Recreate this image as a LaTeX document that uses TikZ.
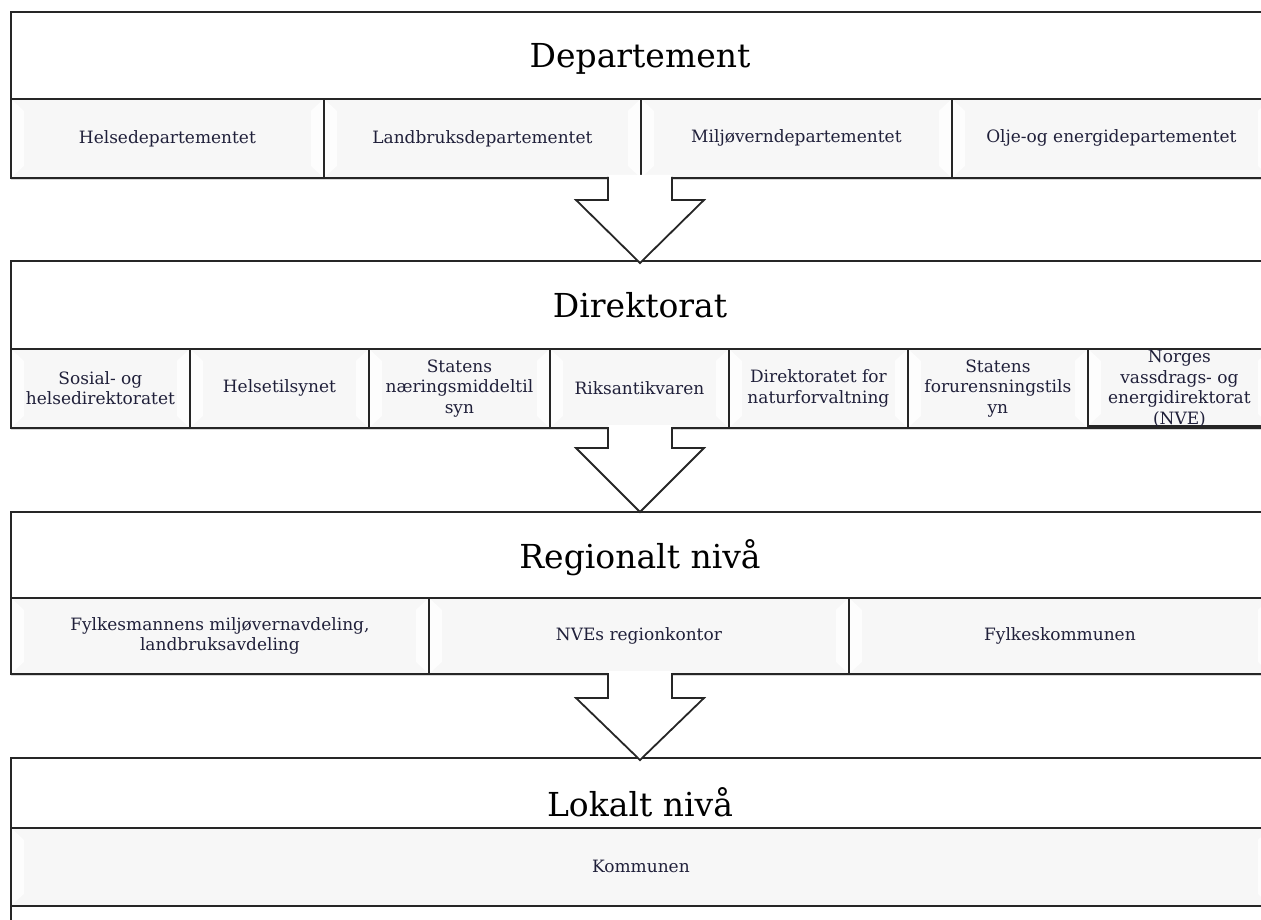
\documentclass[tikz,border=0pt]{standalone}
\usepackage{fontspec}
\setmainfont{DejaVu Serif}
\usetikzlibrary{calc,shadows}
\definecolor{linec}{HTML}{262626}
\definecolor{cellfill}{HTML}{F7F7F7}
\definecolor{bevelc}{HTML}{FDFDFD}
\definecolor{textc}{HTML}{20203A}
\tikzset{
  shadowed/.style={drop shadow={shadow xshift=0pt, shadow yshift=-2.5pt, opacity=0.25, fill=black!60}},
  band/.style={draw=linec, line width=1.8pt, fill=white, anchor=north west, inner sep=0pt, rectangle, shadowed},
  cell/.style={draw=linec, line width=1.8pt, fill=cellfill, anchor=north west, inner sep=0pt, rectangle,
    path picture={
      \fill[bevelc] (path picture bounding box.north west) -- ++(13,12) -- ($(path picture bounding box.south west)+(13,-12)$) -- (path picture bounding box.south west) -- cycle;
      \fill[bevelc] (path picture bounding box.north east) -- ++(-13,12) -- ($(path picture bounding box.south east)+(-13,-12)$) -- (path picture bounding box.south east) -- cycle;
    }},
  celltext/.style={align=center, inner sep=0pt, text=textc, font=\fontsize{17}{20.5}\selectfont},
  titletext/.style={inner sep=0pt, anchor=base, text=black, font=\fontsize{33}{36}\selectfont},
  arrowline/.style={draw=linec, line width=1.8pt, line join=miter},
  arrowfill/.style={fill=white, draw=none}
}
\newcommand\blockarrow[3]{%
  \fill[arrowfill] ($(#1)+(-32,-2)$) -- ($(#1)+(-32,#3)$) -- ($(#1)+(-64,#3)$) -- (#2) -- ($(#1)+(64,#3)$) -- ($(#1)+(32,#3)$) -- ($(#1)+(32,-2)$) -- cycle;
  \draw[arrowline] ($(#1)+(-32,0)$) -- ($(#1)+(-32,#3)$) -- ($(#1)+(-64,#3)$) -- (#2) -- ($(#1)+(64,#3)$) -- ($(#1)+(32,#3)$) -- ($(#1)+(32,0)$);
}
\begin{document}
\begin{tikzpicture}[x=1pt,y=-1pt]
\useasboundingbox (0,0) rectangle (1261,920);
\clip (0,0) rectangle (1261,920);
\fill[white] (0,0) rectangle (1261,920);

% ---------- Level 1 ----------
\node[band, minimum width=1290, minimum height=166] (L1) at (10,11) {};
\node[titletext] (T1) at (640,68) {Departement};
\node[cell, minimum width=313, minimum height=79] (c11) at (10,98) {};
\node[cell, minimum width=317, minimum height=79] (c12) at (323,98) {};
\node[cell, minimum width=311, minimum height=79] (c13) at (640,98) {};
\node[cell, minimum width=319, minimum height=79] (c14) at (951,98) {};
\node[celltext] (t11) at (c11.center) {Helsedepartementet};
\node[celltext] (t12) at (c12.center) {Landbruksdepartementet};
\node[celltext] (t13) at (c13.center) {Miljøverndepartementet};
\node[celltext] (t14) at (c14.center) {Olje-og energidepartementet};

% ---------- Level 2 ----------
\node[band, minimum width=1290, minimum height=167] (L2) at (10,260) {};
\node[titletext] (T2) at (640,317) {Direktorat};
\node[cell, minimum width=179, minimum height=79] (c21) at (10,348) {};
\node[cell, minimum width=179, minimum height=79] (c22) at (189,348) {};
\node[cell, minimum width=181, minimum height=79] (c23) at (368,348) {};
\node[cell, minimum width=179, minimum height=79] (c24) at (549,348) {};
\node[cell, minimum width=179, minimum height=79] (c25) at (728,348) {};
\node[cell, minimum width=180, minimum height=79] (c26) at (907,348) {};
\node[cell, minimum width=183, minimum height=77] (c27) at (1087,348) {};
\node[celltext] (t21) at (c21.center) {Sosial- og\\helsedirektoratet};
\node[celltext] (t22) at (c22.center) {Helsetilsynet};
\node[celltext] (t23) at (c23.center) {Statens\\næringsmiddeltil\\syn};
\node[celltext] (t24) at (c24.center) {Riksantikvaren};
\node[celltext] (t25) at (c25.center) {Direktoratet for\\naturforvaltning};
\node[celltext] (t26) at (c26.center) {Statens\\forurensningstils\\yn};
\node[celltext] (t27) at ($(c27.center)+(0,1)$) {Norges\\vassdrags- og\\energidirektorat\\(NVE)};

% ---------- Level 3 ----------
\node[band, minimum width=1290, minimum height=162] (L3) at (10,511) {};
\node[titletext] (T3) at (640,568) {Regionalt nivå};
\node[cell, minimum width=418, minimum height=76] (c31) at (10,597) {};
\node[cell, minimum width=420, minimum height=76] (c32) at (428,597) {};
\node[cell, minimum width=422, minimum height=76] (c33) at (848,597) {};
\node[celltext] (t31) at (c31.center) {Fylkesmannens miljøvernavdeling,\\landbruksavdeling};
\node[celltext] (t32) at (c32.center) {NVEs regionkontor};
\node[celltext] (t33) at (c33.center) {Fylkeskommunen};

% ---------- Level 4 ----------
\node[band, minimum width=1290, minimum height=200] (L4) at (10,757) {};
\node[titletext] (T4) at (640,816) {Lokalt nivå};
\node[cell, minimum width=1260, minimum height=78] (c41) at (10,827) {};
\node[celltext] (t41) at (c41.center) {Kommunen};

% ---------- Arrows ----------
\coordinate (a1s) at (640,177); \coordinate (a1t) at (640,263);
\coordinate (a2s) at (640,427); \coordinate (a2t) at (640,512);
\coordinate (a3s) at (640,673); \coordinate (a3t) at (640,760);
\blockarrow{a1s}{a1t}{23}
\blockarrow{a2s}{a2t}{21}
\blockarrow{a3s}{a3t}{25}
\end{tikzpicture}
\end{document}
